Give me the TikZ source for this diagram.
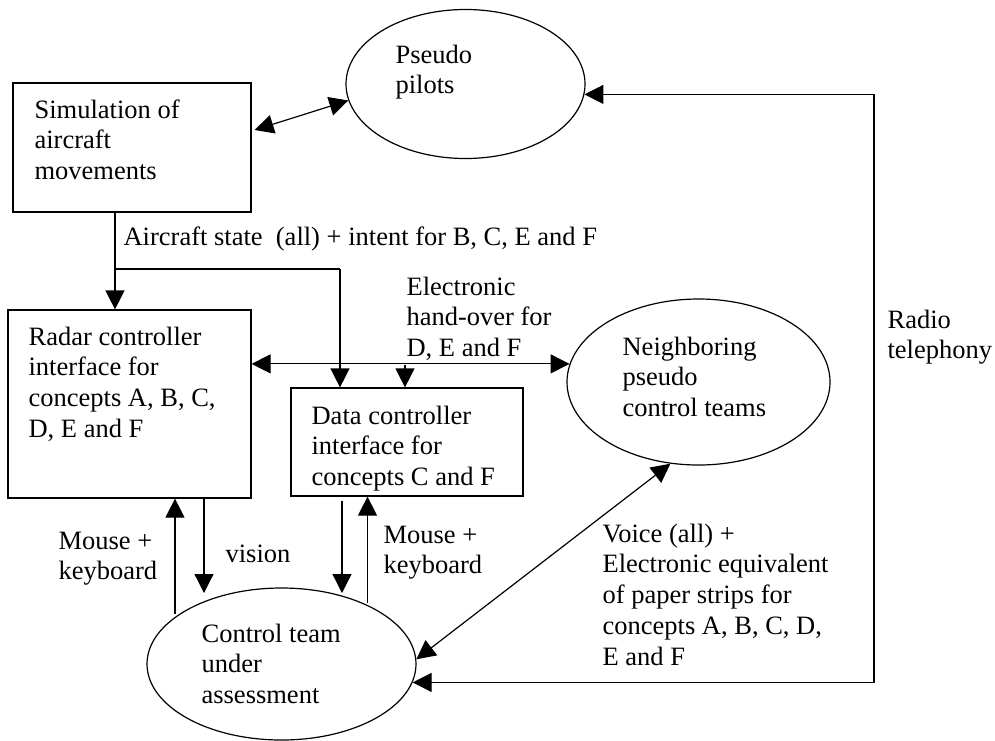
\documentclass[tikz,border=0pt]{standalone}
\usepackage{fontspec}
\setmainfont{Liberation Serif}
\usetikzlibrary{shapes.geometric,arrows.meta,calc}
\newcommand\mlines[1]{\begin{tabular}[t]{@{}l@{}}#1\end{tabular}}
\begin{document}
\begin{tikzpicture}[x=1pt,y=-1pt,
  line width=1.2pt,
  every node/.style={font=\fontsize{26.5}{30.8}\selectfont},
  boxnode/.style={draw,rectangle,inner sep=0pt,line width=1.2pt},
  ovalnode/.style={draw,ellipse,inner sep=0pt,line width=1.2pt},
  lbl/.style={anchor=base west,inner sep=0pt},
  arr/.style={-{Triangle[length=19pt,width=19pt]}},
  darr/.style={{Triangle[length=19pt,width=19pt]}-{Triangle[length=19pt,width=19pt]}}]
\useasboundingbox (0,0) rectangle (995,740);
% shapes
\node[boxnode,minimum width=238pt,minimum height=129pt] (sim) at (132,147.5) {};
\node[boxnode,minimum width=243pt,minimum height=188pt] (radar) at (129.5,404) {};
\node[boxnode,minimum width=232pt,minimum height=108pt] (data) at (407,442) {};
\node[ovalnode,minimum width=239pt,minimum height=149pt] (pilots) at (465.5,84) {};
\node[ovalnode,minimum width=263pt,minimum height=166pt] (nbr) at (698.5,382) {};
\node[ovalnode,minimum width=269pt,minimum height=152pt] (ctrl) at (281.5,664) {};
% labels
\node[lbl] (tsim) at (34,118) {\mlines{Simulation of\\aircraft\\movements}};
\node[lbl] (tpil) at (395,63) {\mlines{Pseudo\\pilots}};
\node[lbl] (tradar) at (28,345) {\mlines{Radar controller\\interface for\\concepts A, B, C,\\D, E and F}};
\node[lbl] (tdata) at (311,424) {\mlines{Data controller\\interface for\\concepts C and F}};
\node[lbl] (tnbr) at (622,355) {\mlines{Neighboring\\pseudo\\control teams}};
\node[lbl] (tctrl) at (201,642) {\mlines{Control team\\under\\assessment}};
\node[lbl] (tstate) at (123,245) {Aircraft state\ \ (all) + intent for B, C, E and F};
\node[lbl] (thand) at (406,295) {\mlines{Electronic\\hand-over for\\D, E and F}};
\node[lbl] (tradio) at (887,328) {\mlines{Radio\\telephony}};
\node[lbl] (tmk1) at (58,549) {\mlines{Mouse +\\keyboard}};
\node[lbl] (tvis) at (225,562) {vision};
\node[lbl] (tmk2) at (383,543) {\mlines{Mouse +\\keyboard}};
\node[lbl] (tvoice) at (602,542) {\mlines{Voice (all) +\\Electronic equivalent\\of paper strips for\\concepts A, B, C, D,\\E and F}};
% helper coordinates
\coordinate (xs) at (115,269);
\coordinate (xd) at (340,269);
\coordinate (xh) at (405,365);
\coordinate (xr) at (874,0);
\coordinate (km1) at (175,614);
\coordinate (vis) at (204,593);
\coordinate (dd) at (342,593);
\coordinate (km2) at (367.5,603);
% connectors
\draw[darr] ($(sim.east)+(3,-17.5)$) -- (pilots.188);
\draw (sim.south -| xs) -- (xs);
\draw[arr] (xs) -- (radar.north -| xs);
\draw (xs) -- (xd);
\draw[arr] (xd) -- (data.north -| xd);
\draw[darr] (radar.east |- nbr.172.5) -- (nbr.172.5);
\draw[arr] (xh) -- (data.north -| xh);
\draw[darr] (pilots.-5.8) -- (pilots.-5.8 -| xr) -- (ctrl.-8.3 -| xr) -- (ctrl.-8.3);
\draw[darr] (ctrl.2.5) -- (nbr.251);
\draw[arr] (km1) -- (radar.south -| km1);
\draw[arr] (radar.south -| vis) -- (vis);
\draw[arr] ($(data.south -| dd)+(0,4)$) -- (dd);
\draw[arr] (km2) -- (data.south -| km2);
\end{tikzpicture}
\end{document}
